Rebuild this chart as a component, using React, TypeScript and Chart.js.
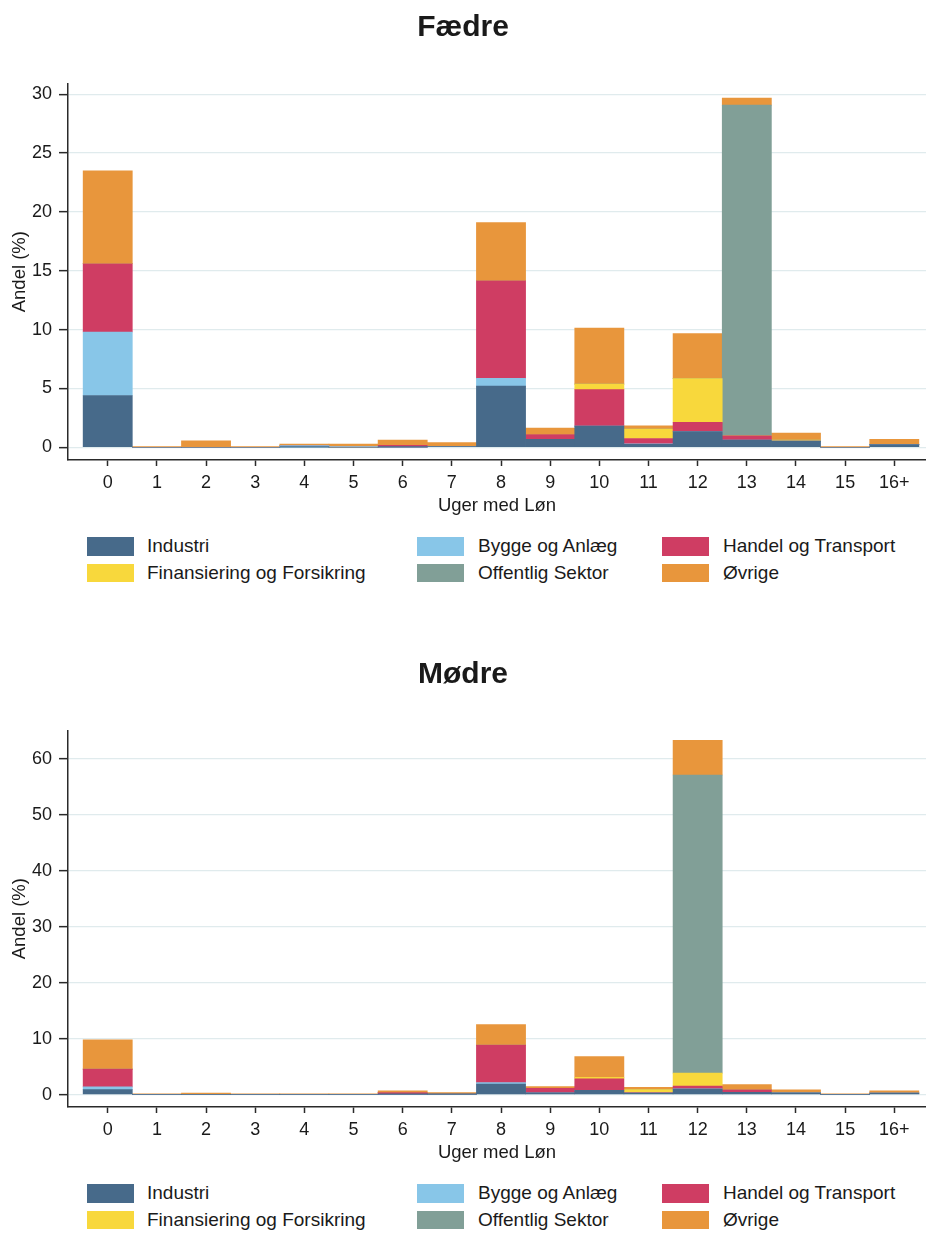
import React, { useEffect, useRef } from "react";
import { Chart, registerables } from "chart.js";

Chart.register(...registerables);

const weekLabels = ["0", "1", "2", "3", "4", "5", "6", "7", "8", "9", "10", "11", "12", "13", "14", "15", "16+"];

const seriesNames = [
  "Industri",
  "Bygge og Anlæg",
  "Handel og Transport",
  "Finansiering og Forsikring",
  "Offentlig Sektor",
  "Øvrige",
];
const seriesColors = ["#476a8a", "#88c6e8", "#cf3d63", "#f8d83c", "#819f97", "#e8963c"];

// Fædre
const faedreIndustri = [4.4, 0, 0, 0, 0.02, 0, 0.02, 0.05, 5.2, 0.68, 1.8, 0.25, 1.33, 0.62, 0.53, 0, 0.22];
const faedreBygge = [5.4, 0, 0, 0, 0.12, 0.03, 0, 0, 0.65, 0, 0, 0.05, 0, 0, 0, 0, 0];
const faedreHandel = [5.8, 0, 0, 0, 0, 0, 0.14, 0, 8.3, 0.4, 3.1, 0.45, 0.8, 0.35, 0, 0, 0];
const faedreFinans = [0, 0, 0, 0, 0, 0, 0, 0, 0, 0, 0.47, 0.8, 3.7, 0, 0.08, 0, 0];
const faedreOffentlig = [0, 0, 0, 0, 0, 0, 0, 0, 0, 0, 0, 0, 0, 28.1, 0, 0, 0];
const faedreOvrige = [7.9, 0.05, 0.55, 0.05, 0.14, 0.25, 0.45, 0.35, 4.95, 0.55, 4.75, 0.28, 3.83, 0.6, 0.6, 0.03, 0.46];

// Mødre
const modreIndustri = [0.9, 0, 0, 0, 0, 0, 0.05, 0.05, 1.9, 0.3, 0.77, 0.25, 1.0, 0.4, 0.3, 0, 0.25];
const modreBygge = [0.47, 0, 0, 0, 0, 0, 0, 0, 0.25, 0, 0, 0, 0.05, 0, 0, 0, 0];
const modreHandel = [3.17, 0, 0, 0, 0, 0, 0.3, 0.05, 6.7, 0.8, 2.03, 0.1, 0.45, 0.45, 0, 0, 0];
const modreFinans = [0, 0, 0, 0, 0, 0, 0, 0, 0, 0, 0.3, 0.55, 2.35, 0, 0.05, 0, 0];
const modreOffentlig = [0, 0, 0, 0, 0, 0, 0, 0, 0, 0, 0, 0, 53.3, 0, 0, 0, 0];
const modreOvrige = [5.26, 0.03, 0.25, 0.03, 0.05, 0.1, 0.3, 0.25, 3.65, 0.35, 3.7, 0.4, 6.2, 0.95, 0.5, 0.03, 0.4];

const faedreYTicks = [0, 5, 10, 15, 20, 25, 30];
const modreYTicks = [0, 10, 20, 30, 40, 50, 60];

const FONT = "'Liberation Sans', Arial, Helvetica, sans-serif";
const TEXT = "#1a1a1a";
const AXIS = "#2a2a2a";

type PanelProps = {
  title: string;
  series: number[][];
  yMin: number;
  yMax: number;
  yTicks: number[];
  top: number;
};

function Panel({ title, series, yMin, yMax, yTicks, top }: PanelProps) {
  const ref = useRef<HTMLCanvasElement | null>(null);

  useEffect(() => {
    if (!ref.current) return;
    const chart = new Chart(ref.current, {
      type: "bar",
      data: {
        datasets: series.map((vals, si) => ({
          label: seriesNames[si],
          data: vals.map((v, i) => ({ x: i, y: v })),
          backgroundColor: seriesColors[si],
          borderWidth: 0,
          barPercentage: 1,
          categoryPercentage: 1,
          stack: "s",
        })),
      },
      options: {
        animation: false,
        responsive: false,
        maintainAspectRatio: false,
        layout: { padding: 0 },
        plugins: {
          legend: { display: false },
          tooltip: { enabled: false },
          title: {
            display: true,
            text: title,
            color: TEXT,
            font: { family: FONT, size: 30, weight: "bold" },
            padding: { top: 10, bottom: 37.3 },
          },
        },
        scales: {
          x: {
            type: "linear",
            min: -0.808,
            max: 16.645,
            stacked: true,
            offset: false,
            afterBuildTicks: (s: any) => {
              s.ticks = weekLabels.map((_, i) => ({ value: i }));
            },
            afterFit: (s: any) => {
              s.height = 60;
            },
            ticks: {
              autoSkip: false,
              maxRotation: 0,
              padding: 6,
              color: TEXT,
              font: { family: FONT, size: 18 },
              callback: (_v: any, i: number) => weekLabels[i],
            },
            grid: {
              display: true,
              offset: false,
              drawOnChartArea: false,
              drawTicks: true,
              tickLength: 6,
              tickColor: AXIS,
              tickWidth: 1.5,
            },
            border: { display: true, color: AXIS, width: 1.5 },
            title: {
              display: true,
              text: "Uger med Løn",
              color: TEXT,
              font: { family: FONT, size: 18.5 },
              padding: { top: 0, bottom: 3 },
            },
          },
          y: {
            type: "linear",
            min: yMin,
            max: yMax,
            stacked: true,
            afterBuildTicks: (s: any) => {
              s.ticks = yTicks.map((v) => ({ value: v }));
            },
            afterFit: (s: any) => {
              s.width = 68;
            },
            ticks: {
              padding: 7,
              color: TEXT,
              font: { family: FONT, size: 18 },
            },
            grid: {
              color: "#e0ebed",
              lineWidth: 1.3,
              tickLength: 9,
              tickColor: AXIS,
              tickWidth: 1.5,
            },
            border: { display: true, color: AXIS, width: 1.5 },
            title: {
              display: true,
              text: "Andel (%)",
              color: TEXT,
              font: { family: FONT, size: 18.5 },
              padding: { top: 9, bottom: 0 },
            },
          },
        },
      } as any,
    });
    return () => chart.destroy();
  }, []);

  const boxLeft = [87, 417, 662];
  const textLeft = [147, 478, 723];
  const rowTop = [537, 563.5];

  return (
    <div style={{ position: "absolute", left: 0, top, width: 926, height: 600 }}>
      <canvas ref={ref} width={926} height={520} style={{ display: "block", width: 926, height: 520 }} />
      {seriesNames.map((name, i) => {
        const col = i % 3;
        const row = Math.floor(i / 3);
        return (
          <React.Fragment key={name}>
            <div
              style={{
                position: "absolute",
                left: boxLeft[col],
                top: rowTop[row],
                width: 47,
                height: 18.5,
                background: seriesColors[i],
              }}
            />
            <div
              style={{
                position: "absolute",
                left: textLeft[col],
                top: rowTop[row] - 2,
                height: 22,
                lineHeight: "22px",
                fontFamily: FONT,
                fontSize: 19,
                color: TEXT,
                whiteSpace: "nowrap",
              }}
            >
              {name}
            </div>
          </React.Fragment>
        );
      })}
    </div>
  );
}

export default function App() {
  useEffect(() => {
    document.body.style.margin = "0";
    document.body.style.background = "#ffffff";
  }, []);
  return (
    <div style={{ position: "relative", width: 926, height: 1233, background: "#ffffff", overflow: "hidden" }}>
      <Panel
        title="Fædre"
        series={[faedreIndustri, faedreBygge, faedreHandel, faedreFinans, faedreOffentlig, faedreOvrige]}
        yMin={-1.08}
        yMax={30.93}
        yTicks={faedreYTicks}
        top={0}
      />
      <Panel
        title="Mødre"
        series={[modreIndustri, modreBygge, modreHandel, modreFinans, modreOffentlig, modreOvrige]}
        yMin={-2.22}
        yMax={65.15}
        yTicks={modreYTicks}
        top={647}
      />
    </div>
  );
}
